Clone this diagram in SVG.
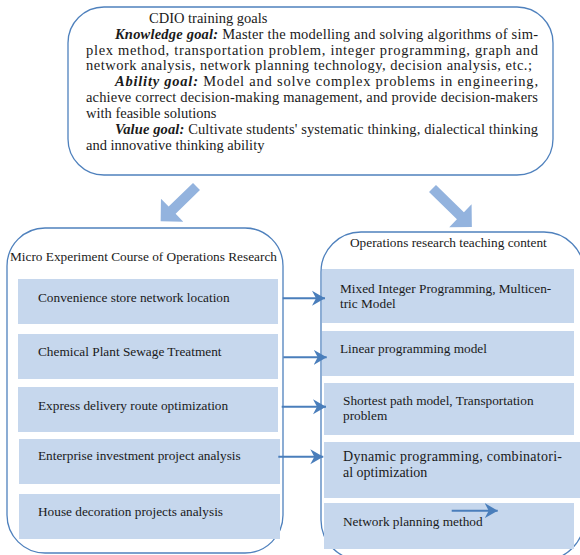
<svg xmlns="http://www.w3.org/2000/svg" width="580" height="555" viewBox="0 0 580 555">
<style>
.frame{fill:#ffffff;stroke:#4f81bd;stroke-width:1.3}
.cell{fill:#c6d7ed}
.big{fill:#93b3de}
.t{font-family:"Liberation Serif","Times New Roman",serif;fill:#1a1a1a}
.g{font-size:14.5px}
.s{font-size:13.3px}
.d{font-size:14px}
.bi{font-weight:bold;font-style:italic}
.con{stroke:#4a7ebb;stroke-width:2;fill:none}
</style>
<defs>
<marker id="ah" markerUnits="userSpaceOnUse" markerWidth="14" markerHeight="16" viewBox="0 -8 14 16" refX="13" refY="0" orient="auto">
<path d="M0,-7.5 L13,0 L0,7.5 L4,0 Z" fill="#4a7ebb"/>
</marker>
</defs>
<rect width="580" height="555" fill="#ffffff"/>

<g id="goals">
<rect class="frame" x="68" y="7" width="485" height="168" rx="36"/>
<text class="t g" x="149" y="22.5">CDIO training goals</text>
<text class="t g" x="115" y="38.5" textLength="423" lengthAdjust="spacing"><tspan class="bi">Knowledge goal:</tspan> Master the modelling and solving algorithms of sim-</text>
<text class="t g" x="86" y="54.5" textLength="452" lengthAdjust="spacing">plex method, transportation problem, integer programming, graph and</text>
<text class="t g" x="86" y="70" textLength="446" lengthAdjust="spacing">network analysis, network planning technology, decision analysis, etc.;</text>
<text class="t g" x="115" y="86" textLength="423" lengthAdjust="spacing"><tspan class="bi">Ability goal:</tspan> Model and solve complex problems in engineering,</text>
<text class="t g" x="86" y="102" textLength="452" lengthAdjust="spacing">achieve correct decision-making management, and provide decision-makers</text>
<text class="t g" x="86" y="118">with feasible solutions</text>
<text class="t g" x="115" y="134" textLength="423" lengthAdjust="spacing"><tspan class="bi">Value goal:</tspan> Cultivate students' systematic thinking, dialectical thinking</text>
<text class="t g" x="86" y="150">and innovative thinking ability</text>
</g>

<g id="arrow-left">
<path class="big" transform="translate(196.5,186.5) rotate(135.8)" d="M0,-5 L34,-5 L34,-16 L50,0 L34,16 L34,5 L0,5 Z"/>
</g>
<g id="arrow-right">
<path class="big" transform="translate(432.5,188.5) rotate(44.3)" d="M0,-5 L39,-5 L39,-16 L55,0 L39,16 L39,5 L0,5 Z"/>
</g>

<g id="micro-course">
<rect class="frame" x="7" y="228" width="276" height="325" rx="38"/>
<text class="t s" x="10" y="261">Micro Experiment Course of Operations Research</text>
</g>
<g id="m1"><rect class="cell" x="18" y="279" width="260" height="45"/><text class="t s" x="38" y="302">Convenience store network location</text></g>
<g id="m2"><rect class="cell" x="18" y="334" width="260" height="45"/><text class="t s" x="38" y="356">Chemical Plant Sewage Treatment</text></g>
<g id="m3"><rect class="cell" x="18" y="387" width="260" height="45"/><text class="t s" x="38" y="410">Express delivery route optimization</text></g>
<g id="m4"><rect class="cell" x="19" y="439" width="261" height="45"/><text class="t s" x="38" y="460">Enterprise investment project analysis</text></g>
<g id="m5"><rect class="cell" x="19" y="494" width="261" height="45"/><text class="t s" x="38" y="516">House decoration projects analysis</text></g>

<g id="teaching-content">
<rect class="frame" x="321" y="232" width="263" height="328" rx="40"/>
<text class="t s" x="350" y="247">Operations research teaching content</text>
</g>
<g id="c1"><rect class="cell" x="322" y="269" width="252" height="54"/><text class="t s" x="340" y="292.5">Mixed Integer Programming, Multicen-</text><text class="t s" x="340" y="307.5">tric Model</text></g>
<g id="c2"><rect class="cell" x="322" y="331" width="252" height="45"/><text class="t s" x="340" y="352.5">Linear programming model</text></g>
<g id="c3"><rect class="cell" x="324" y="383" width="250" height="52"/><text class="t s" x="343" y="404.5">Shortest path model, Transportation</text><text class="t s" x="343" y="419.5">problem</text></g>
<g id="c4"><rect class="cell" x="324" y="442" width="256" height="56"/><text class="t d" x="343" y="461" textLength="219" lengthAdjust="spacing">Dynamic programming, combinatori-</text><text class="t d" x="343" y="477">al optimization</text></g>
<g id="c5"><rect class="cell" x="324" y="503" width="250" height="46"/><text class="t s" x="343" y="526">Network planning method</text></g>

<g id="connectors">
<line class="con" x1="282.7" y1="298.3" x2="325" y2="298.3" marker-end="url(#ah)"/>
<line class="con" x1="283.3" y1="357.3" x2="326.7" y2="357.3" marker-end="url(#ah)"/>
<line class="con" x1="281.7" y1="406.7" x2="326" y2="406.7" marker-end="url(#ah)"/>
<line class="con" x1="278.3" y1="456.7" x2="323.3" y2="456.7" marker-end="url(#ah)"/>
<line class="con" x1="451.7" y1="510.7" x2="497.7" y2="510.7" marker-end="url(#ah)"/>
</g>
</svg>
